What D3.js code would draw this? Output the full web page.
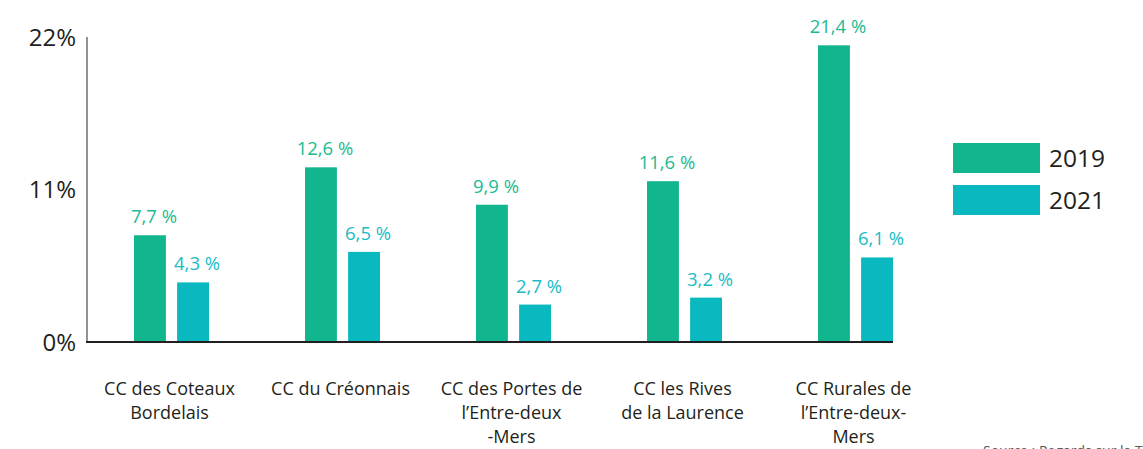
<!DOCTYPE html>
<html>
<head>
<meta charset="utf-8">
<script src="https://cdn.jsdelivr.net/npm/d3@7"></script>
<style>
  body { margin: 0; background: #fff; }
  text { font-family: "Open Sans", "Noto Sans", sans-serif; }
</style>
</head>
<body>
<script>
// data
var categories = [
  ["CC des Coteaux", "Bordelais"],
  ["CC du Créonnais"],
  ["CC des Portes de", "l’Entre-deux", "-Mers"],
  ["CC les Rives", "de la Laurence"],
  ["CC Rurales de", "l’Entre-deux-", "Mers"]
];
var years = ["2019", "2021"];
var values2019 = [7.7, 12.6, 9.9, 11.6, 21.4];
var values2021 = [4.3, 6.5, 2.7, 3.2, 6.1];
var yTicks = [0, 11, 22];
var colors = {"2019": "#11b58e", "2021": "#0ab9c0"};
var labelColors = {"2019": "#1cba92", "2021": "#19bcc4"};

var width = 1143, height = 449;
var svg = d3.select("body").append("svg")
    .attr("width", width)
    .attr("height", height);

var x0 = d3.scaleBand().domain(d3.range(categories.length)).range([86, 941]).padding(0);
var x1 = d3.scaleBand().domain(years).range([-37.5, 37.5]).paddingInner(0.26);
var y = d3.scaleLinear().domain([0, 22]).range([342, 37]);

var rows = categories.map(function(c, i){
    return {i: i, lines: c, "2019": values2019[i], "2021": values2021[i]};
});

// y axis ticks (no tick marks)
var yAxis = d3.axisLeft(y).tickValues(yTicks).tickSize(0).tickPadding(11)
    .tickFormat(function(d){ return d + "%"; });
var gy = svg.append("g")
    .attr("transform", "translate(87,0)")
    .call(yAxis);
gy.select(".domain").remove();
gy.selectAll("text")
    .attr("fill", "#231f20")
    .style("font-size", "24px")
    .attr("dy", "0.35em");

// bars
var groups = svg.selectAll(".grp").data(rows).enter().append("g")
    .attr("class", "grp")
    .attr("transform", function(d){ return "translate(" + (x0(d.i) + x0.bandwidth()/2) + ",0)"; });

groups.selectAll("rect").data(function(d){
        return years.map(function(yr){ return {year: yr, value: d[yr]}; });
    }).enter().append("rect")
    .attr("x", function(d){ return x1(d.year); })
    .attr("width", x1.bandwidth())
    .attr("y", function(d){ return y(d.value); })
    .attr("height", function(d){ return y(0) - y(d.value); })
    .attr("fill", function(d){ return colors[d.year]; });

groups.selectAll(".val").data(function(d){
        return years.map(function(yr){ return {year: yr, value: d[yr]}; });
    }).enter().append("text")
    .attr("class", "val")
    .attr("x", function(d){ return x1(d.year) + x1.bandwidth()/2 + 4; })
    .attr("y", function(d){ return y(d.value) - 12; })
    .attr("text-anchor", "middle")
    .attr("fill", function(d){ return labelColors[d.year]; })
    .style("font-size", "18.5px")
    .text(function(d){ return String(d.value).replace(".", ",") + " %"; });

// axis lines
var lastEnd = x0(categories.length - 1) + x0.bandwidth()/2 + x1(years[1]) + x1.bandwidth();
svg.append("line")
    .attr("x1", 87).attr("x2", 87)
    .attr("y1", y(22)).attr("y2", y(0))
    .attr("stroke", "#6d6e71").attr("stroke-width", 1.5);
svg.append("line")
    .attr("x1", 86).attr("x2", lastEnd)
    .attr("y1", y(0)).attr("y2", y(0))
    .attr("stroke", "#231f20").attr("stroke-width", 2);

// category labels
groups.append("text")
    .attr("text-anchor", "middle")
    .attr("fill", "#231f20")
    .style("font-size", "18px")
    .selectAll("tspan").data(function(d){ return d.lines; }).enter().append("tspan")
    .attr("x", -2)
    .attr("y", function(d, i){ return 395 + i * 24; })
    .text(function(d){ return d; });

// legend
var legend = svg.selectAll(".leg").data(years).enter().append("g")
    .attr("class", "leg")
    .attr("transform", function(d, i){ return "translate(953," + (143 + i * 42) + ")"; });
legend.append("rect")
    .attr("width", 87).attr("height", 30)
    .attr("fill", function(d){ return colors[d]; });
legend.append("text")
    .attr("x", 96).attr("y", 15).attr("dy", "0.35em")
    .attr("fill", "#231f20")
    .style("font-size", "24.5px")
    .text(function(d){ return d; });

// source note (cut off at bottom, as in the original)
svg.append("text")
    .attr("x", 983).attr("y", 456)
    .attr("fill", "#58595b")
    .style("font-size", "14px")
    .text("Source : Regards sur la Territoire");
</script>
</body>
</html>
